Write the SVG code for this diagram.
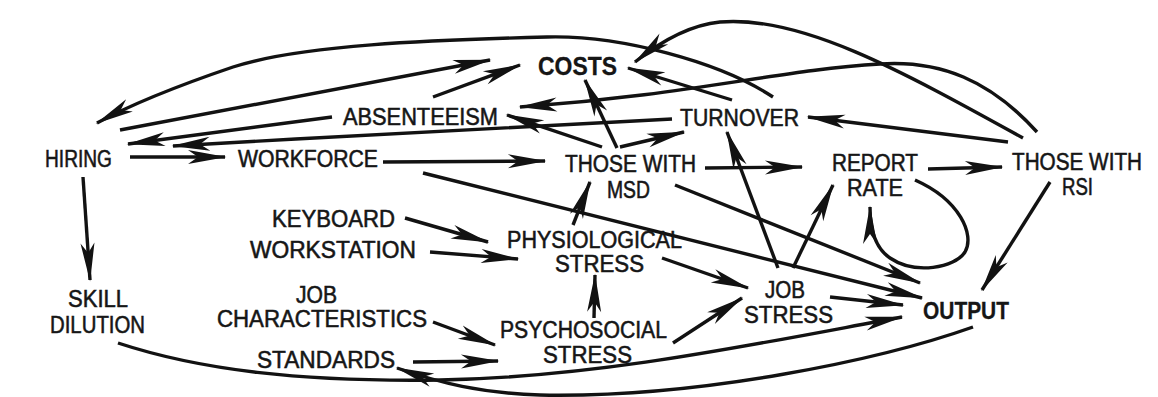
<svg xmlns="http://www.w3.org/2000/svg" width="1158" height="397" viewBox="0 0 1158 397">
<style>
.t{font-family:"Liberation Sans",Arial,sans-serif;font-size:23px;fill:#161616;stroke:#161616;stroke-width:0.55px}
.b{font-weight:bold;stroke-width:0.3px}
.c{fill:none;stroke:#121212;stroke-width:3.4;stroke-linecap:butt}
</style>
<defs>
<marker id="ah" viewBox="-40 -9 42 18" refX="0" refY="0" markerWidth="42" markerHeight="18" orient="auto" markerUnits="userSpaceOnUse">
<path d="M1.5,0 L-37,-7 L-27,0 L-37,7 Z" fill="#121212"/>
</marker>
</defs>
<rect width="1158" height="397" fill="#fff"/>
<g id="connectors" marker-end="url(#ah)">
<path class="c" d="M773,97 C720,62 620,35 547,37 C430,40 300,45 233,67 C180,85 130,105 97,123"/>
<path class="c" d="M1023,138 C900,70 800,15 720,22 C690,25 660,42 635,62"/>
<path class="c" d="M1037,132 C990,80 940,60 880,64 C780,70 690,95 520,107"/>
<path class="c" d="M120,130 L490,60"/>
<path class="c" d="M433,97 L520,65"/>
<path class="c" d="M617,148 L585,80"/>
<path class="c" d="M732,100 L628,68"/>
<path class="c" d="M602,147 L507,115"/>
<path class="c" d="M620,147 L684,132"/>
<path class="c" d="M332,117 L128,144"/>
<path class="c" d="M672,119 C550,127 350,135 173,146"/>
<path class="c" d="M130,157 L225,157"/>
<path class="c" d="M383,162 L545,161"/>
<path class="c" d="M705,168 L802,167"/>
<path class="c" d="M928,169 L1002,167"/>
<path class="c" d="M1008,142 L808,117"/>
<path class="c" d="M83,177 L90,280"/>
<path class="c" d="M423,173 L922,298"/>
<path class="c" d="M675,185 L920,283"/>
<path class="c" d="M662,258 L748,288"/>
<path class="c" d="M778,268 L727,132"/>
<path class="c" d="M793,268 L833,185"/>
<path class="c" d="M915,180 C960,200 975,235 965,252 C955,268 915,275 890,258 C875,248 870,230 870,207"/>
<path class="c" d="M830,297 L903,305"/>
<path class="c" d="M118,343 C200,370 300,382 440,380 C600,377 750,345 902,317"/>
<path class="c" d="M973,327 C880,360 700,398 540,395 C480,393 440,383 397,368"/>
<path class="c" d="M1050,182 L982,290"/>
<path class="c" d="M405,218 L488,242"/>
<path class="c" d="M430,252 L518,259"/>
<path class="c" d="M433,322 L495,345"/>
<path class="c" d="M413,362 L498,361"/>
<path class="c" d="M594,318 L595,275"/>
<path class="c" d="M573,225 L590,182"/>
<path class="c" d="M673,343 L742,298"/>
</g>
<g id="costs"><text class="t b" x="538" y="75" textLength="79" lengthAdjust="spacingAndGlyphs" style="font-size:25px">COSTS</text></g>
<g id="absenteeism"><text class="t" x="343" y="125" textLength="155" lengthAdjust="spacingAndGlyphs">ABSENTEEISM</text></g>
<g id="turnover"><text class="t" x="680" y="126" textLength="119" lengthAdjust="spacingAndGlyphs">TURNOVER</text></g>
<g id="hiring"><text class="t" x="45" y="167" textLength="67" lengthAdjust="spacingAndGlyphs">HIRING</text></g>
<g id="workforce"><text class="t" x="238" y="167" textLength="140" lengthAdjust="spacingAndGlyphs">WORKFORCE</text></g>
<g id="msd"><text class="t" x="565" y="172" textLength="131" lengthAdjust="spacingAndGlyphs">THOSE WITH</text><text class="t" x="607" y="198" textLength="43" lengthAdjust="spacingAndGlyphs">MSD</text></g>
<g id="report"><text class="t" x="832" y="171" textLength="86" lengthAdjust="spacingAndGlyphs">REPORT</text><text class="t" x="847" y="196" textLength="56" lengthAdjust="spacingAndGlyphs">RATE</text></g>
<g id="rsi"><text class="t" x="1012" y="170" textLength="130" lengthAdjust="spacingAndGlyphs">THOSE WITH</text><text class="t" x="1062" y="195" textLength="31" lengthAdjust="spacingAndGlyphs">RSI</text></g>
<g id="keyboard"><text class="t" x="272" y="227" textLength="123" lengthAdjust="spacingAndGlyphs">KEYBOARD</text></g>
<g id="workstation"><text class="t" x="250" y="258" textLength="166" lengthAdjust="spacingAndGlyphs">WORKSTATION</text></g>
<g id="skill"><text class="t" x="68" y="307" textLength="60" lengthAdjust="spacingAndGlyphs">SKILL</text><text class="t" x="50" y="333" textLength="95" lengthAdjust="spacingAndGlyphs">DILUTION</text></g>
<g id="jobchar"><text class="t" x="296" y="303" textLength="41" lengthAdjust="spacingAndGlyphs">JOB</text><text class="t" x="217" y="327" textLength="210" lengthAdjust="spacingAndGlyphs">CHARACTERISTICS</text></g>
<g id="standards"><text class="t" x="257" y="368" textLength="138" lengthAdjust="spacingAndGlyphs">STANDARDS</text></g>
<g id="physio"><text class="t" x="507" y="248" textLength="175" lengthAdjust="spacingAndGlyphs">PHYSIOLOGICAL</text><text class="t" x="555" y="272" textLength="89" lengthAdjust="spacingAndGlyphs">STRESS</text></g>
<g id="psycho"><text class="t" x="500" y="338" textLength="167" lengthAdjust="spacingAndGlyphs">PSYCHOSOCIAL</text><text class="t" x="543" y="363" textLength="89" lengthAdjust="spacingAndGlyphs">STRESS</text></g>
<g id="jobstress"><text class="t" x="765" y="298" textLength="40" lengthAdjust="spacingAndGlyphs">JOB</text><text class="t" x="744" y="323" textLength="89" lengthAdjust="spacingAndGlyphs">STRESS</text></g>
<g id="output"><text class="t b" x="923" y="319" textLength="86" lengthAdjust="spacingAndGlyphs">OUTPUT</text></g>
</svg>
